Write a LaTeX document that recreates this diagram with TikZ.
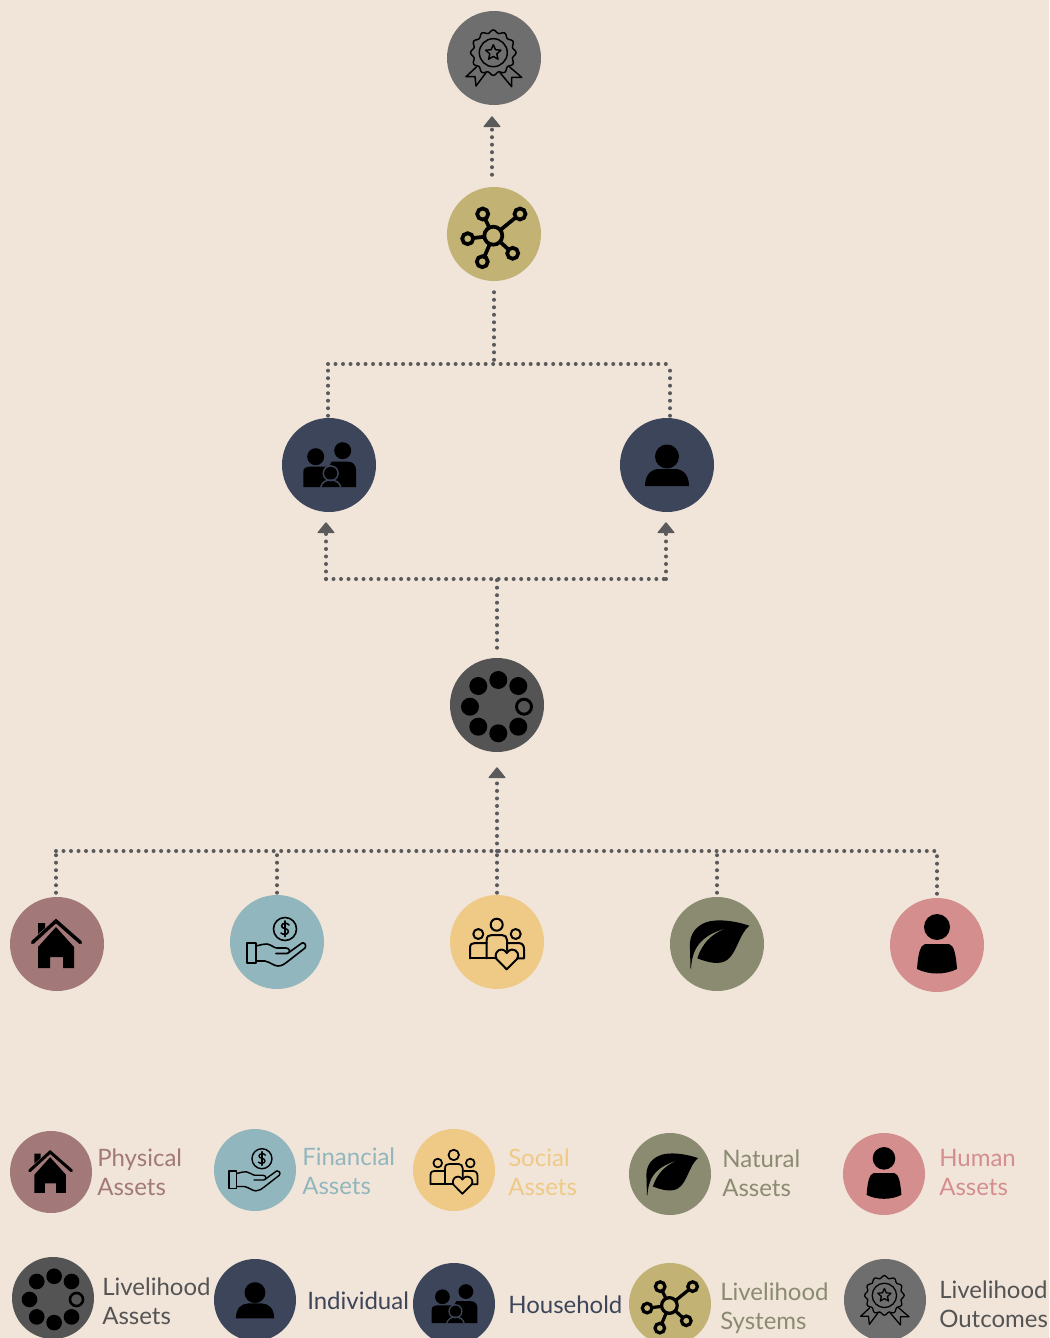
\documentclass[tikz,border=0pt]{standalone}
\usepackage{fontspec}
\setmainfont{Lato}
\usetikzlibrary{arrows.meta,calc}
\definecolor{bgc}{HTML}{F1E5DA}
\definecolor{coutcome}{HTML}{6E6E6E}
\definecolor{csystem}{HTML}{C2B273}
\definecolor{cnavy}{HTML}{3C4559}
\definecolor{clivas}{HTML}{545454}
\definecolor{cphys}{HTML}{A27978}
\definecolor{cfin}{HTML}{91B6BD}
\definecolor{csoc}{HTML}{EFCA86}
\definecolor{cnat}{HTML}{8A8B70}
\definecolor{chum}{HTML}{D48E8E}
\definecolor{cdot}{HTML}{5A5A5A}
\tikzset{
  disc/.style={circle,inner sep=0pt,minimum size=70.5pt,fill=#1},
  legdisc/.style={circle,inner sep=0pt,minimum size=61.5pt,fill=#1},
  lab/.style={anchor=west,align=left,inner sep=0pt,text=#1,font=\fontsize{18}{21.75}\selectfont},
  dotline/.style={draw=cdot,line width=3pt,line cap=round,dash pattern=on 0pt off 5.63pt},
  uparrow/.style={-{Triangle[length=8.5pt,width=13.5pt,round,line width=1pt,fill=cdot]}},
  pics/house/.style={code={
    \begin{scope}[scale=#1]
      \fill (-1,-17) -- (17,3) -- (17,24) -- (6,24) -- (6,13) -- (-7,13) -- (-7,24) -- (-19,24) -- (-19,3) -- cycle;
      \fill (-19,-21) -- (-12,-21) -- (-12,-16) -- (-19,-10) -- cycle;
      \draw[line width=#1*2.6pt,line cap=round,line join=miter] (-24.5,-1.5) -- (-1,-23) -- (23.5,-1.5);
    \end{scope}}},
  pics/hand/.style={code={
    \begin{scope}[scale=#1,line width=#1*1.2pt,line join=round,line cap=round]
      \draw (8,-13) circle[radius=11.5];
      \draw (12,-17) .. controls (10.5,-19.5) and (5,-19.5) .. (4.5,-16) .. controls (4.5,-13) and (11.5,-14) .. (11.5,-10.5) .. controls (11,-7) and (6,-7) .. (4,-9);
      \draw (8,-21) -- (8,-5.5);
      \draw (-30,1) rectangle (-21,21);
      \draw (-21,4) .. controls (-16,3) and (-13,1.5) .. (-10,2) .. controls (-6,2.5) and (-3,6) .. (0,6) -- (9,6) .. controls (13,6) and (14,11) .. (10,11.5) -- (-1,11.5);
      \draw (-21,19) -- (-12,19) .. controls (-7,20) and (-3,24) .. (1,24) .. controls (5,24) and (8,21.5) .. (10,20) -- (28,6) .. controls (30,3) and (27,0) .. (25,1) -- (12.5,10);
    \end{scope}}},
  pics/social/.style={code={
    \begin{scope}[scale=#1,line width=#1*1.5pt,line join=round,line cap=round]
      \draw (-0.3,-17.3) circle[radius=6];
      \draw (-18.7,-8) circle[radius=5];
      \draw (18.7,-8) circle[radius=5];
      \draw (-27,16.3) -- (-1,16.3);
      \draw (-27,16.3) -- (-27,6) .. controls (-27,2) and (-25,1) .. (-22,1) -- (-10.3,1);
      \draw (-10.3,16.3) -- (-10.3,-2) .. controls (-10.3,-6) and (-8,-7) .. (-5,-7) -- (5,-7) .. controls (8,-7) and (10,-5) .. (10,-2) -- (10,8);
      \draw (11,1) -- (21,1) .. controls (25,1) and (27,3) .. (27,7) -- (27,16.3) -- (21,16.3);
      \draw (9.7,27.3) -- (-0.5,17) .. controls (-3,13) and (0,7.5) .. (4.5,7.5) .. controls (7,7.5) and (8.5,9) .. (9.7,11) .. controls (11,9) and (13,7.5) .. (15,7.5) .. controls (20,7.5) and (23,13) .. (20,17) -- cycle;
    \end{scope}}},
  pics/leaf/.style={code={
    \begin{scope}[scale=#1]
      \fill (32.3,-18.3) .. controls (15,-24) and (0,-25) .. (-10,-22) .. controls (-25,-17) and (-28,-5) .. (-27,5)
        -- (-26.5,24.5) -- (-26,24.5) .. controls (-25,8) and (-20,-10) .. (16,-17.3)
        .. controls (-5,-13) and (-15,0) .. (-19.7,14.3) .. controls (-8,19) and (3,21) .. (10,16)
        .. controls (20,9) and (22,-10) .. (32.3,-18.3) -- cycle;
    \end{scope}}},
  pics/human/.style={code={
    \begin{scope}[scale=#1]
      \fill (0,-18) circle[radius=13];
      \fill (-12,-1) -- (12,-1) .. controls (17,0) and (19,10) .. (20,24) .. controls (8,30) and (-8,30) .. (-20,24) .. controls (-19,10) and (-17,0) .. (-12,-1) -- cycle;
    \end{scope}}},
  pics/indiv/.style={code={
    \begin{scope}[scale=#1]
      \fill (0,-8.5) circle[radius=12];
      \fill (-22,21) -- (22,21) .. controls (22,10) and (16,4) .. (8,4) -- (-8,4) .. controls (-16,4) and (-22,10) .. (-22,21) -- cycle;
    \end{scope}}},
  pics/family/.style={code={
    \begin{scope}[scale=#1]
      \fill (-13.3,-8.3) circle[radius=8.5];
      \fill (13.7,-14.3) circle[radius=8.5];
      \fill (-25.7,22) -- (-25.7,7) .. controls (-25.7,3) and (-23,1.7) .. (-20,1.7) -- (0,1.7) -- (2.7,-3.3) -- (19,-3.3) .. controls (24,-3.3) and (27,0) .. (27,5) -- (27,22) -- cycle;
      \draw[cnavy,line width=#1*1.1pt,fill=black] (1.7,8.3) circle[radius=7.4];
      \draw[cnavy,line width=#1*1.1pt] (-8.3,22) .. controls (-7,17) and (-3,15) .. (1.7,15) .. controls (6,15) and (10.5,17) .. (11.7,22);
    \end{scope}}},
  pics/network/.style={code={
    \begin{scope}[scale=#1,line width=#1*2.8pt]
      \coordinate (hub) at (-0.7,1.7);
      \coordinate (na) at (-11.3,-20);
      \coordinate (nb) at (26,-20);
      \coordinate (nc) at (-26.3,4.7);
      \coordinate (nd) at (-11.7,27.7);
      \coordinate (ne) at (18.7,19.3);
      \draw (hub) circle[radius=9];
      \foreach \n in {na,nb,nc,nd,ne}{
        \draw (\n) circle[radius=5.5];
        \draw[shorten <=#1*6.75pt,shorten >=#1*4.1pt] (hub) -- (\n);
      }
    \end{scope}}},
  pics/beads/.style={code={
    \begin{scope}[scale=#1]
      \foreach \p in {(1.3,-25),(21.3,-19),(21.3,21.7),(1.3,28.3),(-18.7,21.7),(-27,1.7),(-18.7,-19)}
        \fill \p circle[radius=9];
      \draw[line width=#1*2.2pt] (27,1.7) circle[radius=7.5];
    \end{scope}}},
  pics/medal/.style={code={
    \begin{scope}[scale=#1,line width=#1*1.1pt,line join=round]
      \begin{scope}[shift={(-0.7,-5.3)}]
        \draw plot[domain=0:360,samples=73] (\x:{21.3+1.5*cos(12*\x)}) -- cycle;
        \draw (0,0) circle[radius=14];
        \draw (-90:8) -- (-54:3.7) -- (-18:8) -- (18:3.7) -- (54:8) -- (90:3.7) -- (126:8) -- (162:3.7) -- (198:8) -- (234:3.7) -- cycle;
      \end{scope}
      \draw (-17.3,8.7) -- (-28,18.7) -- (-19,18.7) -- (-18,28) -- (-7.3,13.7);
      \draw (15.3,8.7) -- (27.7,19.3) -- (17.7,19.3) -- (17.7,28.7) -- (6,14.7);
    \end{scope}}},
}
\begin{document}
\begin{tikzpicture}[x=.75pt,y=-.75pt]
\clip (0,0) rectangle (1049,1338);
\fill[bgc] (0,0) rectangle (1049,1338);
\useasboundingbox (0,0) rectangle (1049,1338);

% main nodes
\node[disc=coutcome] (outcome) at (494,58) {};
\node[disc=csystem] (system) at (494,234) {};
\node[disc=cnavy] (household) at (329,465) {};
\node[disc=cnavy] (individual) at (667,465) {};
\node[disc=clivas] (livas) at (497,705) {};
\node[disc=cphys] (physical) at (57,944) {};
\node[disc=cfin] (financial) at (277,942) {};
\node[disc=csoc] (social) at (497,942) {};
\node[disc=cnat] (natural) at (717,944) {};
\node[disc=chum] (human) at (937,945) {};

\pic at (outcome) {medal=1};
\pic at (system) {network=1};
\pic at (household) {family=1};
\pic at (individual) {indiv=1};
\pic at (livas) {beads=1};
\pic at (physical) {house=1};
\pic at (financial) {hand=1};
\pic at (social) {social=1};
\pic at (natural) {leaf=1};
\pic at (human) {human=1};

% junctions
\coordinate (j1) at (494,364);
\coordinate (j1l) at (328,364);
\coordinate (j1r) at (670,364);
\coordinate (j2) at (497,579);
\coordinate (j2l) at (326,579);
\coordinate (j2r) at (666,579);
\coordinate (j3) at (497,851);
\coordinate (j3a) at (56,851);
\coordinate (j3b) at (277,851);
\coordinate (j3d) at (717,851);
\coordinate (j3e) at (937,851);

% connectors
\draw[dotline,uparrow] ([shift={(-2,-12)}]system.north) -- ([shift={(-2,11)}]outcome.south);
\draw[dotline] ([shift={(0,11)}]system.south) -- (j1);
\draw[dotline] (j1l) -- (j1r);
\draw[dotline] ([shift={(-1,-2)}]household.north) -- (j1l);
\draw[dotline] ([shift={(3,-2)}]individual.north) -- (j1r);
\draw[dotline] ([shift={(0,-10)}]livas.north) -- (j2);
\draw[dotline] (j2l) -- (j2r);
\draw[dotline,uparrow] (j2l) -- ([shift={(-3,10)}]household.south);
\draw[dotline,uparrow] (j2r) -- ([shift={(-1,10)}]individual.south);
\draw[dotline] (j3a) -- (j3e);
\draw[dotline,uparrow] (j3) -- ([shift={(0,15)}]livas.south);
\draw[dotline] ([shift={(-1,-4)}]physical.north) -- (j3a);
\draw[dotline] ([shift={(0,-2)}]financial.north) -- (j3b);
\draw[dotline] ([shift={(0,-2)}]social.north) -- (j3);
\draw[dotline] ([shift={(0,-4)}]natural.north) -- (j3d);
\draw[dotline] ([shift={(0,-4)}]human.north) -- (j3e);

% legend row 1
\node[legdisc=cphys] (lphys) at (51,1172) {};
\node[legdisc=cfin] (lfin) at (255,1170) {};
\node[legdisc=csoc] (lsoc) at (454,1170) {};
\node[legdisc=cnat] (lnat) at (670,1174) {};
\node[legdisc=chum] (lhum) at (884,1174) {};
\pic at (lphys) {house=.87};
\pic at (lfin) {hand=.87};
\pic at (lsoc) {social=.87};
\pic at (lnat) {leaf=.87};
\pic at (lhum) {human=.87};
\node[lab=cphys] (tphys) at (97,1172) {Physical\\Assets};
\node[lab=cfin] (tfin) at (302,1171) {Financial\\Assets};
\node[lab=csoc] (tsoc) at (508,1172) {Social\\Assets};
\node[lab=cnat] (tnat) at (722,1173) {Natural\\Assets};
\node[lab=chum] (thum) at (939,1172) {Human\\Assets};

% legend row 2
\node[legdisc=clivas] (llivas) at (53,1298) {};
\node[legdisc=cnavy] (lind) at (255,1300) {};
\node[legdisc=cnavy] (lhou) at (454,1304) {};
\node[legdisc=csystem] (lsys) at (670,1304) {};
\node[legdisc=coutcome] (lout) at (885,1300) {};
\pic at (llivas) {beads=.87};
\pic at (lind) {indiv=.87};
\pic at (lhou) {family=.87};
\pic at (lsys) {network=.87};
\pic at (lout) {medal=.87};
\node[lab=clivas] (tlivas) at (102,1301) {Livelihood\\Assets};
\node[lab=cnavy] (tind) at (307,1301) {Individual};
\node[lab=cnavy] (thou) at (508,1305) {Household};
\node[lab=cnat] (tsys) at (720,1308) {Livelihood\\Systems};
\node[lab=clivas] (tout) at (939,1304) {Livelihood\\Outcomes};
\end{tikzpicture}
\end{document}
